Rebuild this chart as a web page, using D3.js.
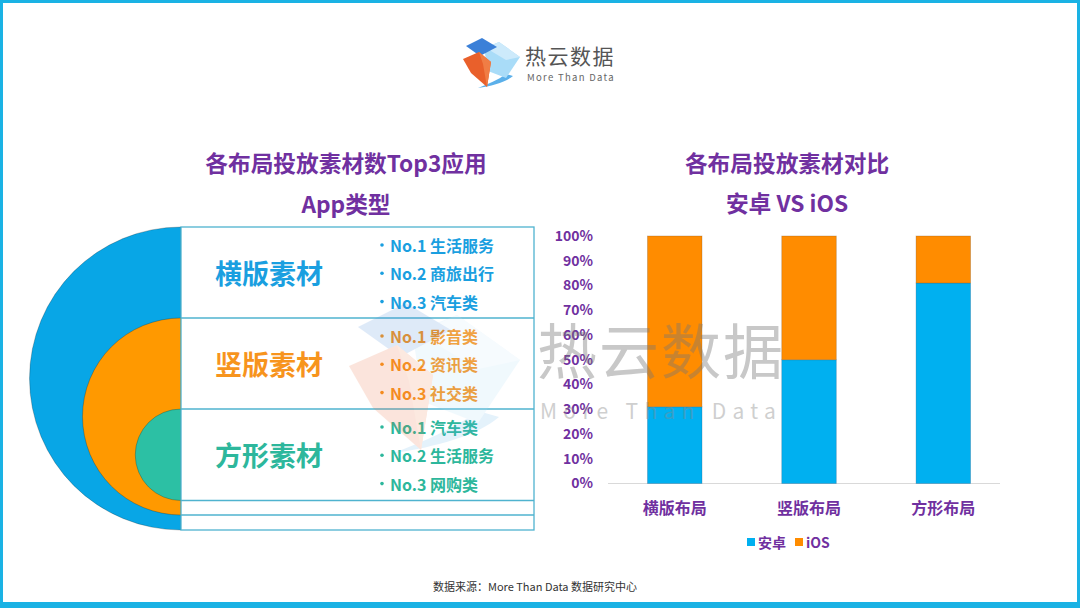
<!DOCTYPE html>
<html><head><meta charset="utf-8">
<script src="https://cdn.jsdelivr.net/npm/d3@7"></script>
<style>body{margin:0;background:#fff}svg{display:block}text{font-family:"Noto Sans CJK SC","Noto Sans",sans-serif}</style>
</head><body>
<script>
// ---- data ----
const categories = ["横版布局", "竖版布局", "方形布局"];
const android = [31, 50, 81];
const ios = [69, 50, 19];
const yTicks = [0, 10, 20, 30, 40, 50, 60, 70, 80, 90, 100];
const seriesNames = ["安卓", "iOS"];
const materials = ["横版素材", "竖版素材", "方形素材"];
const top3 = [
  ["No.1 生活服务", "No.2 商旅出行", "No.3 汽车类"],
  ["No.1 影音类", "No.2 资讯类", "No.3 社交类"],
  ["No.1 汽车类", "No.2 生活服务", "No.3 网购类"]
];

const W = 1080, H = 608;
const purple = "#7030a0";
const svg = d3.select("body").append("svg").attr("width", W).attr("height", H);
svg.append("rect").attr("width", W).attr("height", H).attr("fill", "#fff");

// frame
svg.append("rect").attr("x", 1.5).attr("y", 1.5).attr("width", W - 3).attr("height", H - 3)
  .attr("fill", "none").attr("stroke", "#1ab2e4").attr("stroke-width", 3);
svg.append("rect").attr("x", 0).attr("y", 602).attr("width", W).attr("height", 6).attr("fill", "#1ab2e4");

// logo
function drawLogo(g) {
  g.append("path").attr("d", "M478,88 C492,86 506,82 513,76 L506,74 C498,80 488,84 478,88Z").attr("fill", "#5bb0ea");
  g.append("polygon").attr("points", "484,48 499,42 520,57 506,78 488,71").attr("fill", "#a9dcf8");
  g.append("polygon").attr("points", "499,42 520,57 506,60 486,48").attr("fill", "#cdeafb");
  g.append("polygon").attr("points", "466,46 482,38 497,47 480,56").attr("fill", "#3b80d8");
  g.append("polygon").attr("points", "463,59 479,52 491,62 487,87 471,73").attr("fill", "#e9602b");
  g.append("polygon").attr("points", "479,52 491,62 487,87 483,64").attr("fill", "#f07d45");
}
drawLogo(svg.append("g"));
svg.append("text").attr("x", 525).attr("y", 64).attr("font-size", 21).attr("fill", "#555")
  .attr("letter-spacing", 1.5).text("热云数据");
svg.append("text").attr("x", 527).attr("y", 81).attr("font-size", 9.5).attr("fill", "#666")
  .attr("letter-spacing", 1.3).text("More Than Data");

// titles
function title(x, y, t) {
  svg.append("text").attr("x", x).attr("y", y).attr("text-anchor", "middle").attr("dominant-baseline", "central")
    .attr("font-size", 22.7).attr("font-weight", "bold").attr("fill", purple).text(t);
}
title(346, 162, "各布局投放素材数Top3应用");
title(346, 203, "App类型");
title(787, 162, "各布局投放素材对比");
title(787, 202, "安卓 VS iOS");

// ---- left diagram ----
const boxX0 = 181, boxX1 = 534;
const rowLines = [227, 318, 409, 500.5, 515, 530];
const circleColors = ["#08a6e6", "#ff9900", "#2cc0a4"];
const labelColors = ["#1a9fe0", "#f7941d", "#2db79c"];
const lg = svg.append("g");
materials.forEach((m, i) => {
  const top = rowLines[i], bottom = rowLines[5 - i];
  const r = (bottom - top) / 2;
  const arc = d3.arc().innerRadius(0).outerRadius(r).startAngle(Math.PI).endAngle(2 * Math.PI);
  lg.append("path").attr("d", arc()).attr("transform", `translate(${boxX0},${top + r})`)
    .attr("fill", circleColors[i]).attr("stroke", "rgba(0,0,0,0.22)").attr("stroke-width", 1);
});
lg.append("rect").attr("x", boxX0).attr("y", rowLines[0]).attr("width", boxX1 - boxX0)
  .attr("height", rowLines[5] - rowLines[0]).attr("fill", "#fff").attr("stroke", "#4fb3cf").attr("stroke-width", 1.3);
rowLines.slice(1, 5).forEach(y => {
  lg.append("line").attr("x1", boxX0).attr("x2", boxX1).attr("y1", y).attr("y2", y)
    .attr("stroke", "#4fb3cf").attr("stroke-width", 1.3);
});
materials.forEach((m, i) => {
  const top = rowLines[i], bot = rowLines[i + 1];
  lg.append("text").attr("x", 269).attr("y", (top + bot) / 2).attr("text-anchor", "middle")
    .attr("dominant-baseline", "central").attr("font-size", 27).attr("font-weight", "bold")
    .attr("fill", labelColors[i]).text(m);
  top3[i].forEach((t, j) => {
    const ty = top + 18 + j * 28.3;
    lg.append("circle").attr("cx", 382).attr("cy", ty).attr("r", 1.8).attr("fill", labelColors[i]);
    lg.append("text").attr("x", 390).attr("y", ty)
      .attr("dominant-baseline", "central").attr("font-size", 16).attr("font-weight", "bold")
      .attr("fill", labelColors[i]).text(t);
  });
});

// ---- bar chart ----
const x = d3.scaleBand().domain(categories).range([608, 1000])
  .paddingInner(0.594).paddingOuter(0.2565).align(0.573);
const y = d3.scaleLinear().domain([0, 100]).range([483.5, 236]);
const barBlue = "#00b0f0", barOrange = "#ff8c00";
const bg = svg.append("g");
bg.append("line").attr("x1", x.range()[0]).attr("x2", x.range()[1]).attr("y1", y(0)).attr("y2", y(0))
  .attr("stroke", "#d9d9d9").attr("stroke-width", 1);
categories.forEach((c, i) => {
  bg.append("rect").attr("x", x(c)).attr("width", x.bandwidth())
    .attr("y", y(android[i])).attr("height", y(0) - y(android[i]))
    .attr("fill", barBlue).attr("stroke", "rgba(40,90,130,0.35)").attr("stroke-width", 0.8);
  bg.append("rect").attr("x", x(c)).attr("width", x.bandwidth())
    .attr("y", y(android[i] + ios[i])).attr("height", y(android[i]) - y(android[i] + ios[i]))
    .attr("fill", barOrange).attr("stroke", "rgba(120,80,40,0.35)").attr("stroke-width", 0.8);
});
const yAxis = bg.append("g").attr("transform", "translate(597,0)")
  .call(d3.axisLeft(y).tickValues(yTicks).tickSize(0).tickPadding(4).tickFormat(d => d + "%"));
yAxis.select(".domain").remove();
yAxis.selectAll("text").attr("font-size", 14).attr("font-weight", "bold").attr("fill", purple)
  .attr("font-family", '"Noto Sans CJK SC",sans-serif');
const xAxis = bg.append("g").attr("transform", `translate(0,${y(0)})`)
  .call(d3.axisBottom(x).tickSize(0).tickPadding(19));
xAxis.select(".domain").remove();
xAxis.selectAll("text").attr("font-size", 16).attr("font-weight", "bold").attr("fill", purple)
  .attr("font-family", '"Noto Sans CJK SC",sans-serif');

// legend
const legColors = [barBlue, barOrange];
const legX = [747, 795];
seriesNames.forEach((s, i) => {
  svg.append("rect").attr("x", legX[i]).attr("y", 538).attr("width", 8).attr("height", 8).attr("fill", legColors[i]);
  svg.append("text").attr("x", legX[i] + 11).attr("y", 542).attr("dominant-baseline", "central")
    .attr("font-size", 14).attr("font-weight", "bold").attr("fill", purple).text(s);
});

// footer
svg.append("text").attr("x", 535).attr("y", 586).attr("text-anchor", "middle").attr("dominant-baseline", "central")
  .attr("font-size", 11).attr("fill", "#333").text("数据来源：More Than Data 数据研究中心");

// watermark
const wm = svg.append("g").attr("opacity", 0.16).attr("transform", "translate(-1040,189) scale(3)");
drawLogo(wm);
svg.append("text").attr("x", 537).attr("y", 347).attr("dominant-baseline", "central")
  .attr("font-size", 60).attr("fill", "#777").attr("opacity", 0.4).attr("letter-spacing", 2).text("热云数据");
svg.append("text").attr("x", 540).attr("y", 410).attr("dominant-baseline", "central")
  .attr("font-size", 21).attr("fill", "#888").attr("opacity", 0.4).attr("letter-spacing", 6.3).text("More Than Data");
</script>
</body></html>
